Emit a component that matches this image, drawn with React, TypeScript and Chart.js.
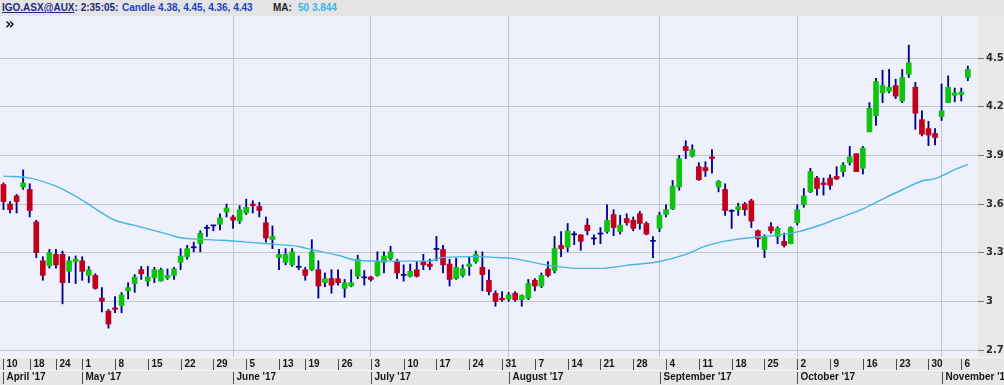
import React, { useEffect, useRef } from 'react';
import { Chart, registerables } from 'chart.js';

Chart.register(...registerables);

// ---- trading days (ASX, 2017) ----
const aprDays = [10, 11, 12, 13, 18, 19, 20, 21, 24, 26, 27, 28];
const mayDays = [1, 2, 3, 4, 5, 8, 9, 10, 11, 12, 15, 16, 17, 18, 19, 22, 23, 24, 25, 26, 29, 30, 31];
const junDays = [1, 2, 5, 6, 7, 8, 9, 13, 14, 15, 16, 19, 20, 21, 22, 23, 26, 27, 28, 29, 30];
const julDays = [3, 4, 5, 6, 7, 10, 11, 12, 13, 14, 17, 18, 19, 20, 21, 24, 25, 26, 27, 28, 31];
const augDays = [1, 2, 3, 4, 7, 8, 9, 10, 11, 14, 15, 16, 17, 18, 21, 22, 23, 24, 25, 28, 29, 30, 31];
const sepDays = [1, 4, 5, 6, 7, 8, 11, 12, 13, 14, 15, 18, 19, 20, 21, 22, 25, 26, 27, 28, 29];
const octDays = [2, 3, 4, 5, 6, 9, 10, 11, 12, 13, 16, 17, 18, 19, 20, 23, 24, 25, 26, 27, 30, 31];
const novDays = [1, 2, 3, 6, 7];

const pad = (n: number) => (n < 10 ? '0' + n : String(n));
const monthBlocks: [string, number[]][] = [
  ['04', aprDays], ['05', mayDays], ['06', junDays], ['07', julDays],
  ['08', augDays], ['09', sepDays], ['10', octDays], ['11', novDays],
];
const tradingDates: string[] = monthBlocks.flatMap(([m, days]) => days.map((d) => `2017-${m}-${pad(d)}`));

// ---- OHLC ----
const open = [
  3.72, 3.60, 3.65, 3.705, 3.69, 3.49, 3.25, 3.22, 3.29, 3.29,
  3.185, 3.245, 3.25, 3.16, 3.16, 3.02, 2.94, 2.96, 2.975, 3.065,
  3.11, 3.195, 3.125, 3.145, 3.125, 3.145, 3.16, 3.24, 3.275, 3.33,
  3.355, 3.45, 3.465, 3.475, 3.55, 3.52, 3.495, 3.545, 3.60, 3.585,
  3.485, 3.38, 3.27, 3.24, 3.225, 3.21, 3.195, 3.195, 3.195, 3.115,
  3.14, 3.14, 3.08, 3.095, 3.155, 3.145, 3.15, 3.16, 3.24, 3.265,
  3.245, 3.16, 3.155, 3.195, 3.245, 3.23, 3.32, 3.32, 3.23, 3.14,
  3.16, 3.215, 3.245, 3.21, 3.13, 3.05, 3.02, 3.015, 3.05, 3.01,
  3.02, 3.13, 3.095, 3.20, 3.19, 3.345, 3.335, 3.41, 3.41, 3.47,
  3.385, 3.415, 3.43, 3.535, 3.43, 3.51, 3.50, 3.54, 3.48, 3.37,
  3.45, 3.535, 3.57, 3.705, 3.955, 3.895, 3.83, 3.825, 3.89, 3.705,
  3.69, 3.555, 3.565, 3.60, 3.62, 3.435, 3.32, 3.46, 3.40, 3.37,
  3.355, 3.485, 3.595, 3.675, 3.76, 3.73, 3.76, 3.77, 3.80, 3.855,
  3.91, 3.82, 4.045, 4.145, 4.285, 4.295, 4.33, 4.235, 4.40, 4.32,
  4.12, 4.065, 4.035, 4.14, 4.225, 4.27, 4.275, 4.38,
];
const high = [
  3.73, 3.615, 3.66, 3.81, 3.725, 3.50, 3.275, 3.32, 3.32, 3.31,
  3.275, 3.28, 3.275, 3.215, 3.17, 3.085, 2.95, 3.03, 3.055, 3.115,
  3.165, 3.215, 3.215, 3.21, 3.205, 3.20, 3.21, 3.325, 3.345, 3.365,
  3.435, 3.47, 3.47, 3.54, 3.60, 3.53, 3.59, 3.63, 3.62, 3.61,
  3.52, 3.465, 3.32, 3.325, 3.325, 3.28, 3.21, 3.38, 3.25, 3.175,
  3.195, 3.195, 3.135, 3.195, 3.285, 3.19, 3.155, 3.305, 3.305, 3.34,
  3.26, 3.225, 3.23, 3.245, 3.29, 3.26, 3.40, 3.345, 3.26, 3.265,
  3.225, 3.275, 3.31, 3.305, 3.195, 3.065, 3.06, 3.055, 3.06, 3.04,
  3.135, 3.14, 3.175, 3.245, 3.40, 3.43, 3.48, 3.43, 3.41, 3.51,
  3.41, 3.455, 3.595, 3.565, 3.53, 3.54, 3.52, 3.555, 3.49, 3.40,
  3.55, 3.595, 3.745, 3.90, 3.99, 3.965, 3.855, 3.86, 3.935, 3.745,
  3.725, 3.565, 3.605, 3.61, 3.63, 3.44, 3.41, 3.485, 3.46, 3.42,
  3.46, 3.595, 3.695, 3.82, 3.77, 3.76, 3.78, 3.83, 3.855, 3.955,
  3.91, 3.955, 4.225, 4.375, 4.425, 4.43, 4.37, 4.43, 4.58, 4.35,
  4.175, 4.11, 4.065, 4.34, 4.39, 4.315, 4.315, 4.45,
];
const low = [
  3.565, 3.545, 3.545, 3.69, 3.52, 3.27, 3.13, 3.205, 3.205, 2.985,
  3.115, 3.11, 3.13, 3.115, 3.075, 2.935, 2.835, 2.93, 2.93, 3.015,
  3.055, 3.135, 3.095, 3.115, 3.125, 3.135, 3.135, 3.195, 3.26, 3.305,
  3.305, 3.40, 3.435, 3.44, 3.52, 3.45, 3.48, 3.535, 3.545, 3.52,
  3.365, 3.325, 3.195, 3.225, 3.215, 3.195, 3.13, 3.19, 3.02, 3.09,
  3.05, 3.10, 3.025, 3.09, 3.14, 3.10, 3.125, 3.155, 3.175, 3.255,
  3.14, 3.125, 3.15, 3.15, 3.195, 3.195, 3.25, 3.175, 3.095, 3.135,
  3.15, 3.16, 3.235, 3.065, 3.04, 2.97, 3.00, 3.00, 3.00, 2.97,
  3.01, 3.065, 3.085, 3.15, 3.175, 3.275, 3.305, 3.35, 3.315, 3.41,
  3.35, 3.355, 3.42, 3.405, 3.415, 3.47, 3.435, 3.445, 3.41, 3.27,
  3.43, 3.52, 3.565, 3.685, 3.88, 3.89, 3.745, 3.77, 3.79, 3.675,
  3.53, 3.45, 3.53, 3.53, 3.455, 3.335, 3.27, 3.42, 3.355, 3.335,
  3.355, 3.47, 3.58, 3.67, 3.655, 3.655, 3.69, 3.75, 3.77, 3.84,
  3.80, 3.785, 4.045, 4.085, 4.225, 4.285, 4.25, 4.225, 4.38, 4.06,
  4.02, 3.96, 3.965, 4.115, 4.225, 4.23, 4.235, 4.36,
];
const close = [
  3.615, 3.565, 3.615, 3.73, 3.56, 3.30, 3.16, 3.30, 3.225, 3.115,
  3.25, 3.26, 3.185, 3.195, 3.08, 3.00, 2.86, 2.95, 3.04, 3.085,
  3.15, 3.17, 3.15, 3.195, 3.195, 3.16, 3.20, 3.28, 3.325, 3.33,
  3.42, 3.45, 3.465, 3.515, 3.575, 3.50, 3.565, 3.58, 3.59, 3.56,
  3.39, 3.40, 3.29, 3.29, 3.305, 3.21, 3.16, 3.305, 3.095, 3.14,
  3.10, 3.115, 3.115, 3.115, 3.26, 3.145, 3.135, 3.245, 3.28, 3.305,
  3.175, 3.16, 3.185, 3.155, 3.225, 3.215, 3.32, 3.225, 3.135, 3.21,
  3.20, 3.23, 3.29, 3.165, 3.06, 3.00, 3.01, 3.04, 3.01, 3.035,
  3.11, 3.095, 3.16, 3.16, 3.325, 3.325, 3.435, 3.41, 3.37, 3.435,
  3.385, 3.415, 3.50, 3.455, 3.47, 3.485, 3.45, 3.48, 3.415, 3.37,
  3.53, 3.565, 3.71, 3.88, 3.93, 3.935, 3.75, 3.805, 3.88, 3.74,
  3.56, 3.555, 3.585, 3.565, 3.495, 3.385, 3.40, 3.435, 3.45, 3.345,
  3.455, 3.565, 3.65, 3.80, 3.695, 3.72, 3.715, 3.755, 3.84, 3.89,
  3.80, 3.945, 4.19, 4.355, 4.33, 4.32, 4.265, 4.38, 4.47, 4.16,
  4.03, 4.025, 4.01, 4.175, 4.32, 4.285, 4.29, 4.43,
];

// ---- 50-period moving average (at candle indices) ----
const maIndex = [0, 4, 8, 10, 12, 15, 17, 20, 22, 25, 27, 30, 33, 35, 38, 41, 45, 47, 51, 54, 59, 65, 67, 72, 76, 78, 83, 88, 91, 95, 100, 104, 107, 110, 114, 118, 121, 124, 127, 131, 134, 137, 140, 142, 145, 147];
const maValue = [3.772, 3.76, 3.71, 3.67, 3.624, 3.545, 3.50, 3.468, 3.447, 3.414, 3.392, 3.382, 3.377, 3.372, 3.362, 3.353, 3.338, 3.318, 3.284, 3.252, 3.248, 3.248, 3.271, 3.276, 3.269, 3.262, 3.223, 3.203, 3.203, 3.222, 3.246, 3.29, 3.34, 3.371, 3.393, 3.408, 3.428, 3.463, 3.508, 3.57, 3.63, 3.688, 3.742, 3.757, 3.812, 3.844];

// ---- axis tick labels ----
const weekTickDates = [
  '2017-04-10', '2017-04-18', '2017-04-24', '2017-05-01', '2017-05-08', '2017-05-15', '2017-05-22', '2017-05-29',
  '2017-06-05', '2017-06-13', '2017-06-19', '2017-06-26', '2017-07-03', '2017-07-10', '2017-07-17', '2017-07-24',
  '2017-07-31', '2017-08-07', '2017-08-14', '2017-08-21', '2017-08-28', '2017-09-04', '2017-09-11', '2017-09-18',
  '2017-09-25', '2017-10-02', '2017-10-09', '2017-10-16', '2017-10-23', '2017-10-30', '2017-11-06',
];
const weekTickLabels = ['10', '18', '24', '1', '8', '15', '22', '29', '5', '13', '19', '26', '3', '10', '17', '24', '31', '7', '14', '21', '28', '4', '11', '18', '25', '2', '9', '16', '23', '30', '6'];
const monthTickDates = ['2017-04-10', '2017-05-01', '2017-06-01', '2017-07-03', '2017-08-01', '2017-09-01', '2017-10-02', '2017-11-01'];
const monthTickLabels = ["April '17", "May '17", "June '17", "July '17", "August '17", "September '17", "October '17", "November '17"];
const monthGridDates = ['2017-06-01', '2017-07-03', '2017-08-01', '2017-09-01', '2017-10-02', '2017-11-01'];

const UP = '#0fc40f';
const DOWN = '#c3001c';
const WICK = '#00008f';
const MA_COLOR = '#45b6e4';
const PLOT_BG = '#eef0fb';
const PANEL_BG = '#e8e8e8';
const GRID = '#c5c6cc';

const idxOf = (d: string) => tradingDates.indexOf(d);

export default function App() {
  const ref = useRef<HTMLCanvasElement | null>(null);

  useEffect(() => {
    const canvas = ref.current;
    if (!canvas) return;

    const bodyColors = tradingDates.map((_, i) =>
      close[i] > open[i] ? UP : close[i] < open[i] ? DOWN : WICK
    );

    const bgPlugin = {
      id: 'bg',
      beforeDraw(chart: any) {
        const { ctx, chartArea } = chart;
        ctx.save();
        ctx.fillStyle = PANEL_BG;
        ctx.fillRect(0, 0, chart.width, chart.height);
        ctx.fillStyle = PLOT_BG;
        ctx.fillRect(chartArea.left, chartArea.top, chartArea.right - chartArea.left, chartArea.bottom - chartArea.top);
        ctx.restore();
      },
    };

    const bottomAxisPlugin = {
      id: 'bottomAxis',
      afterDraw(chart: any) {
        const { ctx, chartArea } = chart;
        const xs = chart.scales.x;
        const top = chartArea.bottom;
        const W = chart.width;
        ctx.save();
        ctx.fillStyle = '#e6e6e6';
        ctx.fillRect(0, top, W, chart.height - top);
        ctx.fillStyle = '#f7f7f7';
        ctx.fillRect(0, top, W, 1);
        ctx.fillStyle = '#f4f4f4';
        ctx.fillRect(0, top + 13, W, 1);
        ctx.font = 'bold 10px "Liberation Sans", Arial, sans-serif';
        ctx.textBaseline = 'middle';
        ctx.textAlign = 'left';
        ctx.strokeStyle = '#4a4a4a';
        ctx.fillStyle = '#151515';
        ctx.lineWidth = 1;
        weekTickDates.forEach((d, k) => {
          const px = Math.round(xs.getPixelForValue(idxOf(d))) + 0.5;
          ctx.beginPath();
          ctx.moveTo(px, top + 2);
          ctx.lineTo(px, top + 13);
          ctx.stroke();
          ctx.fillText(weekTickLabels[k], px + 3, top + 7.5);
        });
        monthTickDates.forEach((d, k) => {
          const px = Math.round(xs.getPixelForValue(idxOf(d))) + 0.5;
          ctx.beginPath();
          ctx.moveTo(px, top + 15);
          ctx.lineTo(px, top + 27);
          ctx.stroke();
          ctx.fillText(monthTickLabels[k], px + 3, top + 20.5);
        });
        ctx.restore();
      },
    };

    const chart = new Chart(canvas, {
      type: 'bar',
      data: {
        datasets: [
          {
            type: 'line',
            label: 'MA 50',
            data: maIndex.map((x, k) => ({ x, y: maValue[k] })),
            borderColor: MA_COLOR,
            borderWidth: 1.4,
            pointRadius: 0,
            cubicInterpolationMode: 'monotone',
            order: 0,
          } as any,
          {
            type: 'bar',
            label: 'Body',
            data: tradingDates.map((_, i) => ({ x: i, y: [open[i], close[i]] })),
            backgroundColor: bodyColors,
            barThickness: 5,
            minBarLength: 1,
            grouped: false,
            order: 1,
          } as any,
          {
            type: 'bar',
            label: 'Wick',
            data: tradingDates.map((_, i) => ({ x: i, y: [low[i], high[i]] })),
            backgroundColor: WICK,
            barThickness: 1.2,
            grouped: false,
            order: 2,
          } as any,
        ],
      },
      options: {
        animation: false,
        responsive: false,
        maintainAspectRatio: false,
        layout: { padding: 0 },
        plugins: { legend: { display: false }, tooltip: { enabled: false } },
        scales: {
          x: {
            type: 'linear',
            min: -0.53,
            max: 148.55,
            offset: false,
            afterBuildTicks: (s: any) => {
              s.ticks = monthGridDates.map((d) => ({ value: idxOf(d) }));
            },
            afterFit: (s: any) => {
              s.height = 28;
              s.paddingLeft = 0;
              s.paddingRight = 0;
              s.paddingTop = 0;
              s.paddingBottom = 0;
            },
            ticks: { display: false },
            grid: { color: GRID, drawTicks: false, offset: false },
            border: { display: false },
          },
          y: {
            type: 'linear',
            position: 'right',
            min: 2.657,
            max: 4.759,
            beginAtZero: false,
            afterFit: (s: any) => {
              s.width = 26;
              s.paddingTop = 0;
              s.paddingBottom = 0;
              s.paddingLeft = 0;
              s.paddingRight = 0;
            },
            ticks: {
              stepSize: 0.3,
              includeBounds: false,
              padding: 2,
              color: '#2a2a2a',
              font: { family: '"DejaVu Sans", Verdana, sans-serif', size: 10, weight: 'bold' },
              callback: (v: any) => String(Math.round(Number(v) * 10) / 10),
            },
            grid: { color: GRID, tickLength: 6, tickColor: '#7a7a7a' },
            border: { display: false },
          },
        },
      } as any,
      plugins: [bgPlugin, bottomAxisPlugin],
    });

    return () => chart.destroy();
  }, []);

  const font = 'bold 10px "Liberation Sans", Arial, sans-serif';

  return (
    <div style={{ position: 'absolute', left: 0, top: 0, width: 1004, height: 385, overflow: 'hidden', background: PANEL_BG }}>
      <div style={{ position: 'absolute', left: 0, top: 0, width: 1004, height: 16, background: '#e4e4e4', font, lineHeight: '16px', whiteSpace: 'nowrap' }}>
        <span style={{ position: 'absolute', left: 2, top: 0, color: '#1d2878' }}>
          <span style={{ textDecoration: 'underline' }}>IGO.ASX@AUX</span>: 2:35:05:
        </span>
        <span style={{ position: 'absolute', left: 122, top: 0, color: '#1f3fc4' }}>Candle 4.38, 4.45, 4.36, 4.43</span>
        <span style={{ position: 'absolute', left: 273, top: 0, color: '#222' }}>MA:</span>
        <span style={{ position: 'absolute', left: 298, top: 0, color: '#3ab3e6' }}>50 3.844</span>
      </div>
      <canvas ref={ref} width={1004} height={369} style={{ position: 'absolute', left: 0, top: 16, width: 1004, height: 369 }} />
      <div style={{ position: 'absolute', left: 5, top: 17, font: 'bold 15px "DejaVu Sans", sans-serif', lineHeight: '15px', color: '#111' }}>»</div>
    </div>
  );
}
